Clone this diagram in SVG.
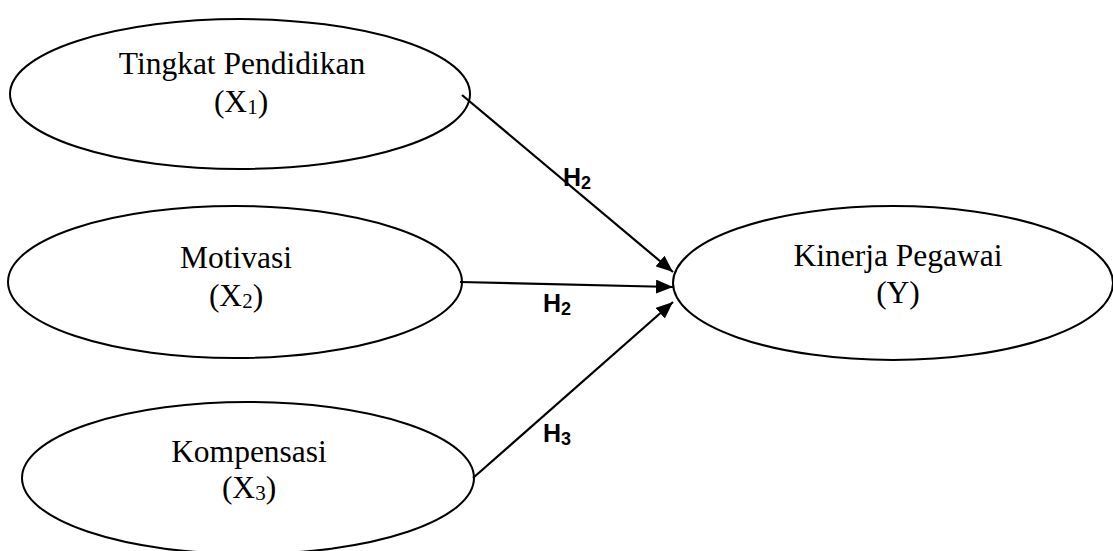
<svg xmlns="http://www.w3.org/2000/svg" width="1113" height="551" viewBox="0 0 1113 551">
<style>
.node ellipse{fill:#fff;stroke:#000;stroke-width:2}
.lbl{font-family:"Liberation Serif","Times New Roman",serif;font-size:31.5px;fill:#000;text-anchor:middle}
.sub{font-size:21px}
.conn line{stroke:#000;stroke-width:2.2;marker-end:url(#ah)}
.h{font-family:"Liberation Sans",Arial,sans-serif;font-weight:bold;font-size:25px;fill:#000}
.hs{font-size:18px}
</style>
<defs>
<marker id="ah" markerUnits="userSpaceOnUse" markerWidth="18" markerHeight="14" refX="17" refY="7" orient="auto">
<path d="M0,0 L17,7 L0,14 z" fill="#000"/>
</marker>
</defs>
<rect width="1113" height="551" fill="#fff"/>
<g id="n1" class="node">
<ellipse cx="240" cy="94" rx="230" ry="75"/>
<text class="lbl" x="242" y="74">Tingkat Pendidikan</text>
<text class="lbl" x="241" y="112">(X<tspan class="sub" dy="2">1</tspan><tspan dy="-2">)</tspan></text>
</g>
<g id="n2" class="node">
<ellipse cx="235" cy="282" rx="227" ry="76"/>
<text class="lbl" x="236" y="268">Motivasi</text>
<text class="lbl" x="236" y="306">(X<tspan class="sub" dy="2">2</tspan><tspan dy="-2">)</tspan></text>
</g>
<g id="n3" class="node">
<ellipse cx="248" cy="478" rx="226" ry="76"/>
<text class="lbl" x="249" y="462">Kompensasi</text>
<text class="lbl" x="249" y="498">(X<tspan class="sub" dy="2">3</tspan><tspan dy="-2">)</tspan></text>
</g>
<g id="n4" class="node">
<ellipse cx="893" cy="283" rx="220" ry="77"/>
<text class="lbl" x="898" y="266">Kinerja Pegawai</text>
<text class="lbl" x="898" y="303">(Y)</text>
</g>
<g id="connectors" class="conn">
<line x1="462" y1="95" x2="673" y2="272"/>
<line x1="460" y1="282" x2="673" y2="287"/>
<line x1="473" y1="478" x2="673" y2="302"/>
</g>
<g id="labels">
<text class="h" x="563" y="186">H<tspan class="hs" dy="3">2</tspan></text>
<text class="h" x="543" y="312">H<tspan class="hs" dy="3">2</tspan></text>
<text class="h" x="543" y="442">H<tspan class="hs" dy="3">3</tspan></text>
</g>
</svg>
